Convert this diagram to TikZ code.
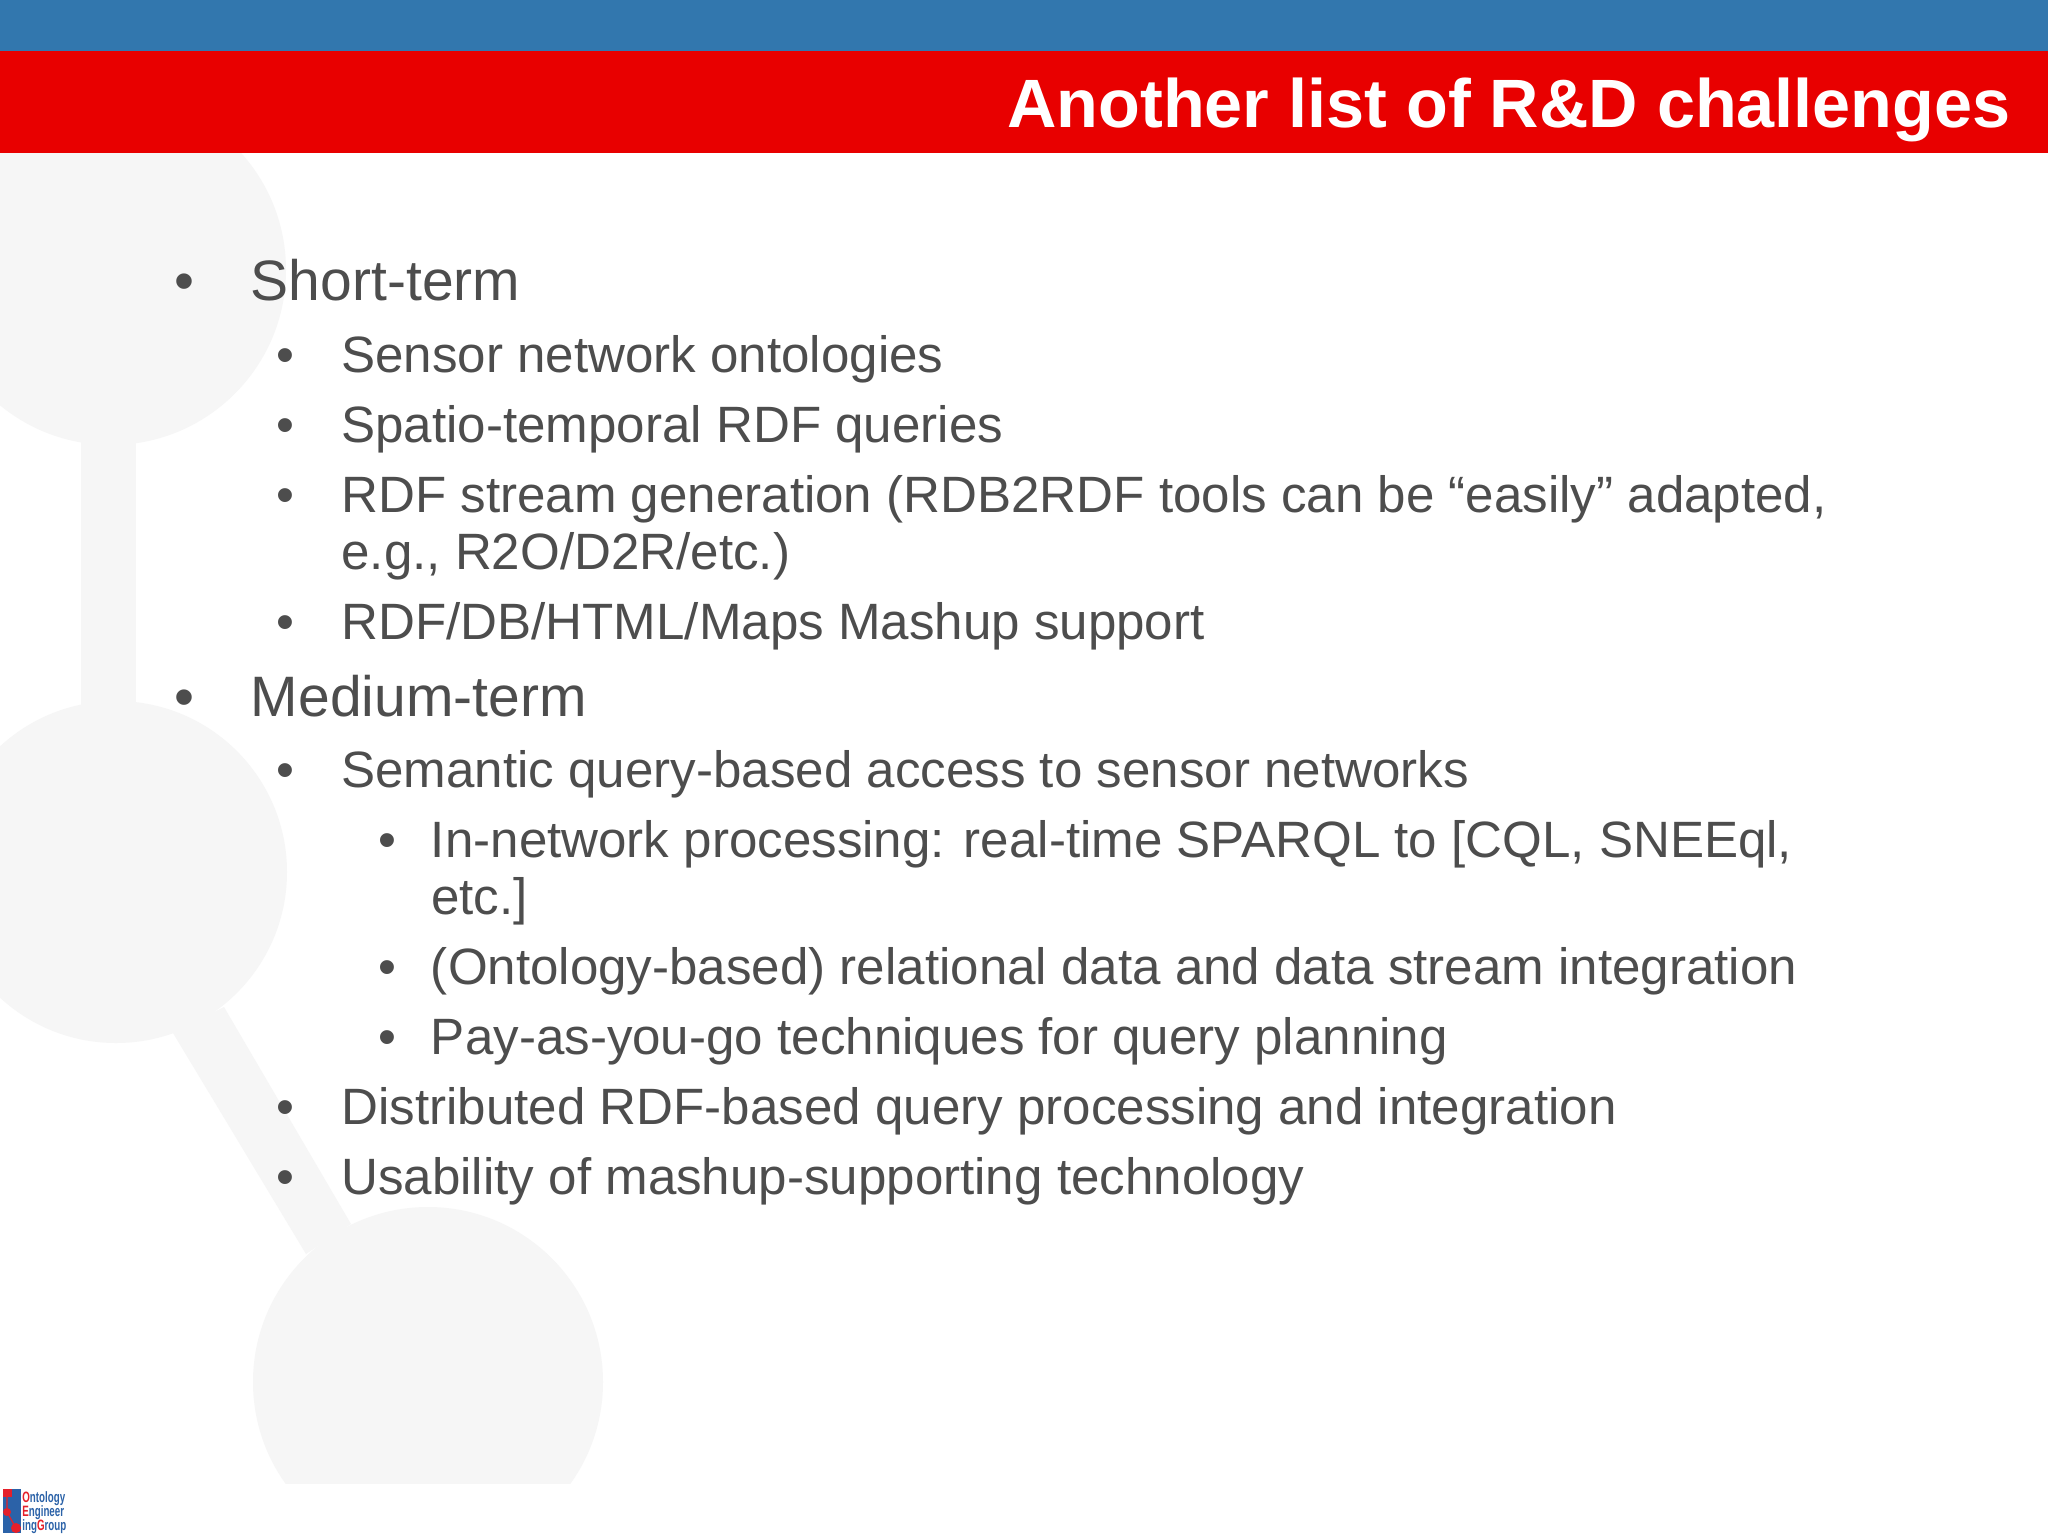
\documentclass[tikz,border=0pt]{standalone}
\usepackage{fontspec}
\setmainfont{Liberation Sans}
\usetikzlibrary{positioning}

\definecolor{bandblue}{HTML}{3277AE}
\definecolor{bandred}{HTML}{E80000}
\definecolor{bodygrey}{HTML}{4D4D4D}
\definecolor{moleculegrey}{HTML}{F6F6F6}
\definecolor{logoblue}{HTML}{2B62A8}
\definecolor{logored}{HTML}{E5202A}

\newcommand{\bul}[1]{\makebox[#1][l]{\textbullet}}
\newcommand{\logoline}[2]{\scalebox{.65}[1]{\textcolor{logored}{#1}#2}}

\tikzset{
  lvlone/.style={anchor=base west, inner sep=0pt, text=bodygrey, font=\fontsize{28.5}{34}\selectfont},
  lvltwo/.style={anchor=base west, inner sep=0pt, text=bodygrey, font=\fontsize{25.55}{28.8}\selectfont},
  logotext/.style={anchor=base west, inner sep=0pt, text=logoblue, font=\bfseries\fontsize{7.5}{9}\selectfont},
  molecule/.style={fill=moleculegrey, draw=none},
}

\begin{document}
\begin{tikzpicture}[x=0.5pt, y=-0.5pt]
  \useasboundingbox (0,0) rectangle (2048,1536);
  \clip (0,0) rectangle (2048,1536);
  \fill[white] (0,0) rectangle (2048,1536);

  % molecule behind the text
  \begin{scope}
    \clip (0,153) rectangle (2048,1483);
    \fill[molecule] (111,270) circle[radius=175];
    \fill[molecule] (116,872) circle[radius=171];
    \fill[molecule] (428,1382) circle[radius=175];
    \fill[molecule] (81,430) rectangle (136,720);
    \fill[molecule] (173,1033) -- (224,1007) -- (351,1224) -- (306,1254) -- cycle;
  \end{scope}

  % title bands
  \fill[bandblue] (0,0) rectangle (2048,51);
  \fill[bandred] (0,51) rectangle (2048,153);
  \node[anchor=base east, inner sep=0pt, text=white, font=\bfseries\fontsize{34.2}{40}\selectfont]
    (title) at (2011,127) {Another list of R\&D challenges};

  % short-term
  \node[lvlone] (short) at (174,300.5) {\bul{38.3pt}Short-term};
  \node[lvltwo, below right=35.9pt and 51pt of short.base west, anchor=base west] (sensor) {\bul{32.5pt}Sensor network ontologies};
  \node[lvltwo, below=35pt of sensor.base west, anchor=base west] (spatio) {\bul{32.5pt}Spatio-temporal RDF queries};
  \node[lvltwo, below=35pt of spatio.base west, anchor=base west] (stream) {\bul{32.5pt}RDF stream generation (RDB2RDF tools can be “easily” adapted,};
  \node[lvltwo, below right=28.8pt and 32.5pt of stream.base west, anchor=base west] (streameg) {e.g., R2O/D2R/etc.)};
  \node[lvltwo, below=63.8pt of stream.base west, anchor=base west] (mashup) {\bul{32.5pt}RDF/DB/HTML/Maps Mashup support};

  % medium-term
  \node[lvlone, below left=38.3pt and 51pt of mashup.base west, anchor=base west] (medium) {\bul{38.3pt}Medium-term};
  \node[lvltwo, below right=35.4pt and 51pt of medium.base west, anchor=base west] (semantic) {\bul{32.5pt}Semantic query-based access to sensor networks};
  \node[lvltwo, below right=35pt and 51pt of semantic.base west, anchor=base west] (innet) {\bul{26.3pt}In-network processing: real-time SPARQL to [CQL, SNEEql,};
  \node[lvltwo, below right=28.8pt and 26.3pt of innet.base west, anchor=base west] (inneteg) {etc.]};
  \node[lvltwo, below=63.8pt of innet.base west, anchor=base west] (relational) {\bul{26.3pt}(Ontology-based) relational data and data stream integration};
  \node[lvltwo, below=35pt of relational.base west, anchor=base west] (payas) {\bul{26.3pt}Pay-as-you-go techniques for query planning};
  \node[lvltwo, below left=35pt and 51pt of payas.base west, anchor=base west] (distrib) {\bul{32.5pt}Distributed RDF-based query processing and integration};
  \node[lvltwo, below=35pt of distrib.base west, anchor=base west] (usability) {\bul{32.5pt}Usability of mashup-supporting technology};

  % logo
  \fill[logoblue] (3,1489) rectangle (21,1533);
  \fill[logored] (3,1489) rectangle (12,1497);
  \fill[logored] (7,1512) circle[radius=4];
  \fill[logored] (16,1528) circle[radius=5];
  \draw[logored, line width=.6pt] (7,1497) -- (7,1512) -- (16,1528);
  \node[logotext] (logoa) at (22,1502) {\logoline{O}{ntology}};
  \node[logotext, below=7.1pt of logoa.base west, anchor=base west] (logob) {\logoline{E}{ngineer}};
  \node[logotext, below=7.1pt of logob.base west, anchor=base west] (logoc) {\scalebox{.65}[1]{ing\textcolor{logored}{G}roup}};
\end{tikzpicture}
\end{document}
